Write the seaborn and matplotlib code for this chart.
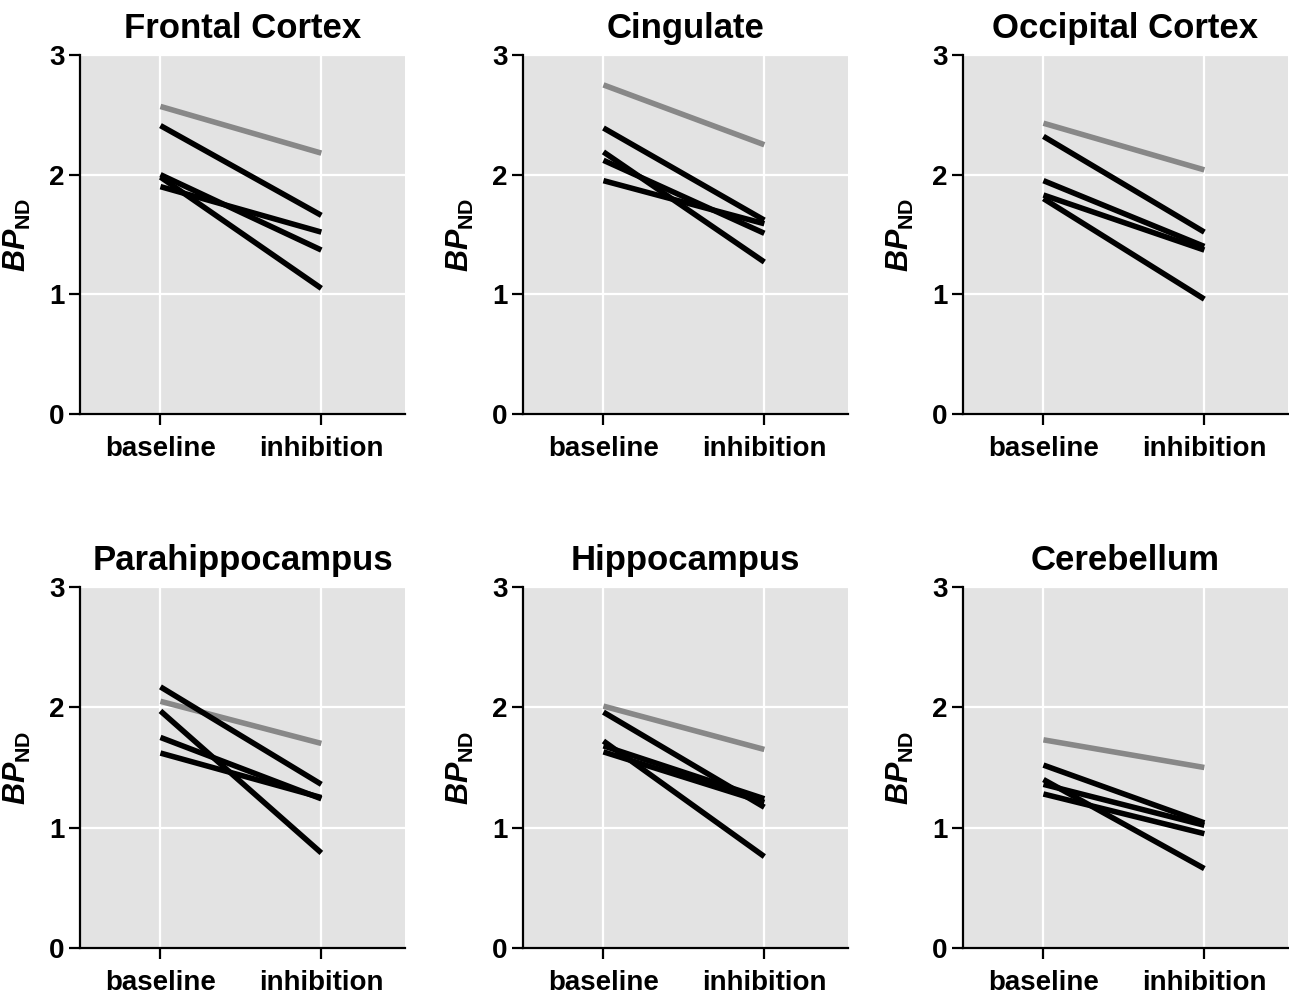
import matplotlib
matplotlib.use("Agg")
import matplotlib.pyplot as plt
import seaborn as sns
import pandas as pd

regions = ["Frontal Cortex", "Cingulate", "Occipital Cortex",
           "Parahippocampus", "Hippocampus", "Cerebellum"]
conditions = ["baseline", "inhibition"]
subjects = ["S1", "S2", "S3", "S4", "S5"]
groups = ["gray", "black", "black", "black", "black"]

baseline_vals = {
    "Frontal Cortex":   [2.57, 2.41, 2.00, 1.98, 1.90],
    "Cingulate":        [2.75, 2.39, 2.19, 2.12, 1.95],
    "Occipital Cortex": [2.43, 2.32, 1.95, 1.83, 1.80],
    "Parahippocampus":  [2.05, 2.17, 1.97, 1.75, 1.62],
    "Hippocampus":      [2.01, 1.96, 1.72, 1.68, 1.63],
    "Cerebellum":       [1.73, 1.52, 1.40, 1.36, 1.28],
}
inhibition_vals = {
    "Frontal Cortex":   [2.18, 1.66, 1.37, 1.05, 1.52],
    "Cingulate":        [2.25, 1.62, 1.27, 1.51, 1.59],
    "Occipital Cortex": [2.04, 1.52, 1.40, 1.37, 0.96],
    "Parahippocampus":  [1.70, 1.36, 0.79, 1.24, 1.25],
    "Hippocampus":      [1.65, 1.17, 0.76, 1.24, 1.21],
    "Cerebellum":       [1.50, 1.04, 0.66, 1.02, 0.95],
}
y_ticks = [0, 1, 2, 3]

rows = []
for r in regions:
    for i, s in enumerate(subjects):
        rows.append(dict(region=r, subject=s, group=groups[i], condition="baseline", BP=baseline_vals[r][i]))
        rows.append(dict(region=r, subject=s, group=groups[i], condition="inhibition", BP=inhibition_vals[r][i]))
df = pd.DataFrame(rows)

sns.set_theme(style="darkgrid")
plt.rcParams["font.family"] = ["Liberation Sans", "DejaVu Sans"]
plt.rcParams["font.weight"] = "bold"
plt.rcParams["mathtext.fontset"] = "custom"
plt.rcParams["mathtext.bf"] = "Liberation Sans:bold"
plt.rcParams["mathtext.bfit"] = "Liberation Sans:italic:bold"
plt.rcParams["mathtext.it"] = "Liberation Sans:italic:bold"
plt.rcParams["mathtext.rm"] = "Liberation Sans:bold"

W, H = 1289, 996
fig = plt.figure(figsize=(W / 100, H / 100), dpi=100)
lefts = [80, 523, 963]
tops = [55, 587]
bottoms = [414, 948]
width = 325

palette = {"gray": "#888888", "black": "#000000"}

for k, r in enumerate(regions):
    row, col = divmod(k, 3)
    ax = fig.add_axes([lefts[col] / W, 1 - bottoms[row] / H, width / W, (bottoms[row] - tops[row]) / H])
    ax.set_facecolor("#e3e3e3")
    sub = df[df.region == r]
    sns.lineplot(data=sub, x="condition", y="BP", hue="group", units="subject",
                 estimator=None, palette=palette, hue_order=["gray", "black"],
                 legend=False, linewidth=4.0, ax=ax, sort=False)
    for ln in ax.get_lines():
        ln.set_solid_capstyle("butt")
    ax.set_xlim(-0.5, 1.52)
    ax.set_ylim(0, 3)
    ax.set_yticks(y_ticks)
    ax.set_xticks([0, 1])
    ax.set_xticklabels(conditions)
    ax.grid(True, color="white", linewidth=1.6)
    for side in ["top", "right"]:
        ax.spines[side].set_visible(False)
    for side in ["left", "bottom"]:
        ax.spines[side].set_visible(True)
        ax.spines[side].set_color("black")
        ax.spines[side].set_linewidth(1.6)
    ax.tick_params(axis="both", direction="out", length=8, width=1.6, color="black",
                   left=True, bottom=True)
    ax.tick_params(axis="x", labelsize=20, pad=8)
    ax.tick_params(axis="y", labelsize=20, pad=3)
    for lab in ax.get_xticklabels() + ax.get_yticklabels():
        lab.set_fontweight("bold")
        lab.set_color("black")
    ax.set_xlabel("")
    ax.set_ylabel(r"$\mathit{BP}_{\mathrm{ND}}$", fontsize=22, labelpad=12, color="black")
    ax.set_title(r, fontsize=25, fontweight="bold", pad=12, color="black")

fig.savefig("out.png", dpi=100, facecolor="white")
